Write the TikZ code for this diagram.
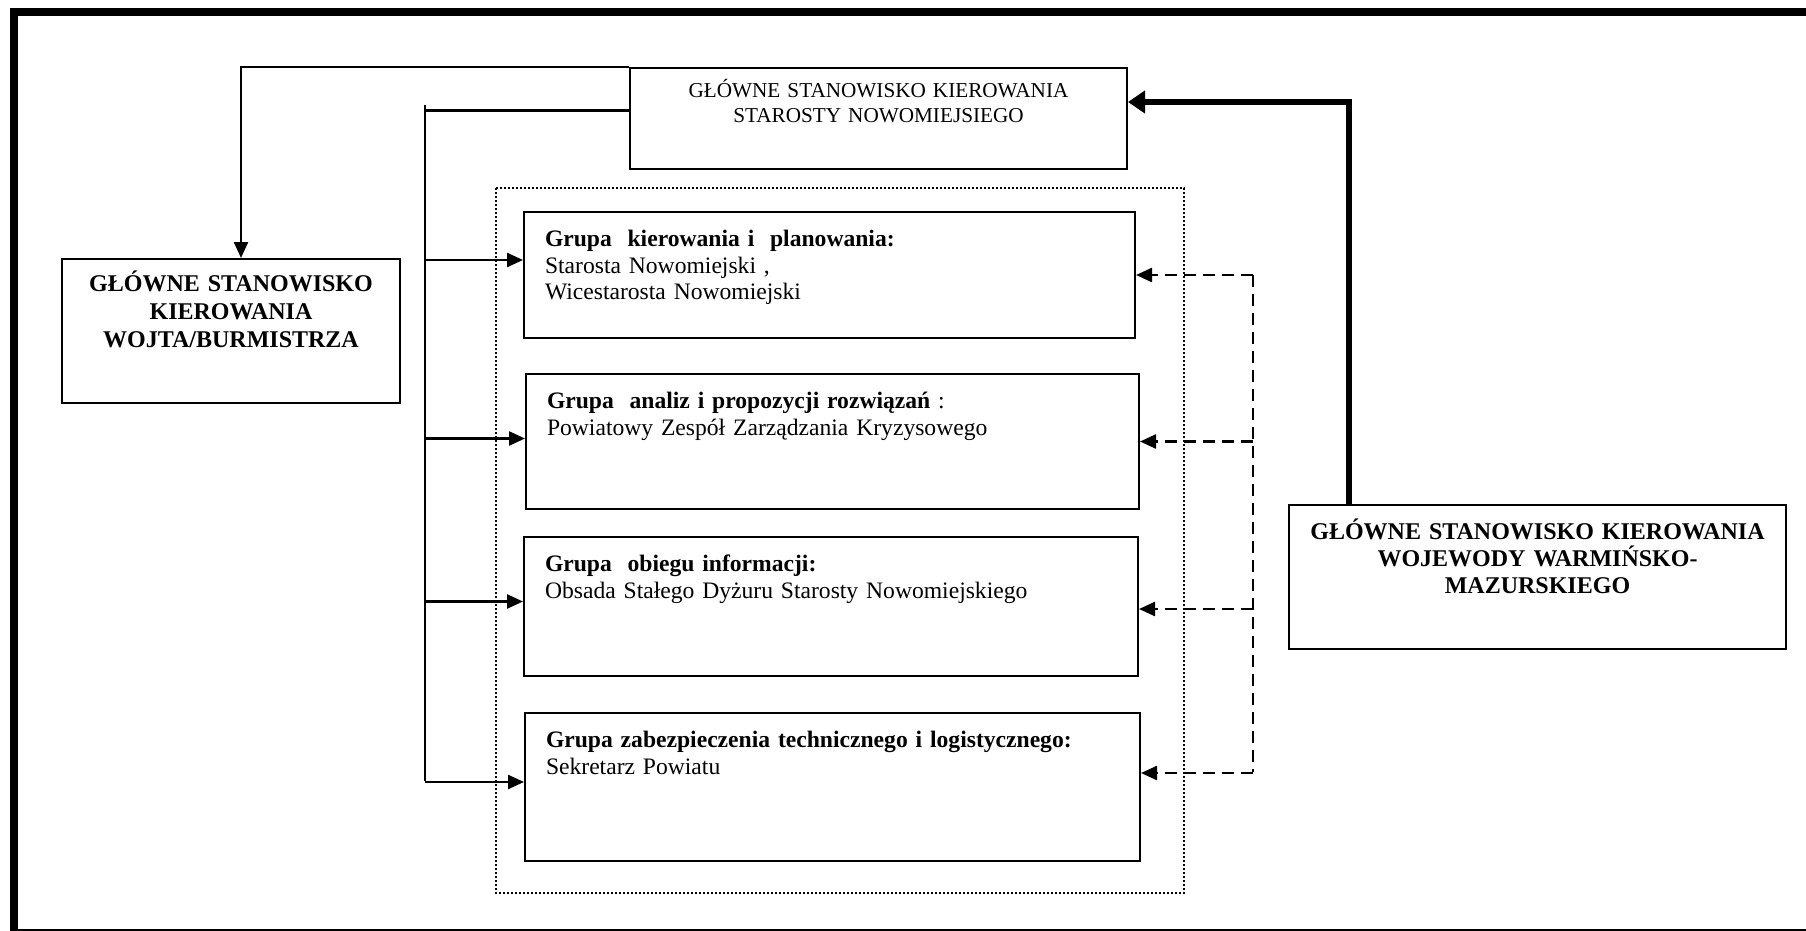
\documentclass[tikz,border=0pt]{standalone}
\usepackage{fontspec}
\setmainfont{Liberation Serif}
\usetikzlibrary{arrows.meta}

\begin{document}
\begin{tikzpicture}[x=0.5pt,y=-0.5pt,
  ramka/.style={draw,line width=1pt,inner ysep=0pt,anchor=north west},
  grupa/.style={ramka,inner xsep=10.5pt,align=left,text height=17pt,
    font=\fontsize{11.8}{13.5}\selectfont},
  szef/.style={ramka,inner xsep=4pt,align=center,
    font=\bfseries\fontsize{12}{13.8}\selectfont},
  linia/.style={line width=1.2pt},
  strzalka/.style={linia,-{Triangle[length=8pt,width=7pt]}},
  kreska/.style={strzalka,dash pattern=on 6pt off 3.5pt},
  gruba/.style={line width=2.8pt,-{Triangle[length=8.5pt,width=11pt]}}]
\useasboundingbox (0,0) rectangle (1806,931);
\clip (0,0) rectangle (1806,931);
% ramka strony
\draw[line width=4pt] (1830,933) -- (14,933) -- (14,12) -- (1830,12);

% stanowiska kierowania
\node[ramka,text width=240.5pt,inner xsep=4pt,align=center,text height=15pt,
  text depth=35.5pt,font=\fontsize{10.6}{12.5}\selectfont] (star) at (629,67)
  {GŁÓWNE STANOWISKO KIEROWANIA\\STAROSTY NOWOMIEJSIEGO};
\node[szef,text width=161pt,text height=16.5pt,text depth=55.5pt] (wojt) at (61,258)
  {GŁÓWNE STANOWISKO\\KIEROWANIA\\WOJTA/BURMISTRZA};
\node[szef,text width=240.5pt,text height=17pt,text depth=55pt,
  font=\bfseries\fontsize{12}{13.5}\selectfont] (woj) at (1288,504)
  {GŁÓWNE STANOWISKO KIEROWANIA\\WOJEWODY WARMIŃSKO-\\MAZURSKIEGO};

% grupy
\draw[line width=1.2pt,dash pattern=on 1pt off 1pt] (496,188) rectangle (1184,893);
\node[grupa,text width=284.5pt,text depth=46pt] (g1) at (523,211)
  {\textbf{Grupa\ \ kierowania i\ \ planowania:}\\Starosta Nowomiejski ,\\Wicestarosta Nowomiejski};
\node[grupa,text width=285.5pt,text depth=50.5pt] (g2) at (525,373)
  {\textbf{Grupa\ \ analiz i propozycji rozwiązań} :\\Powiatowy Zespół Zarządzania Kryzysowego};
\node[grupa,text width=286pt,text depth=52.5pt] (g3) at (523,536)
  {\textbf{Grupa\ \ obiegu informacji:}\\Obsada Stałego Dyżuru Starosty Nowomiejskiego};
\node[grupa,text width=286.5pt,text depth=57pt] (g4) at (524,712)
  {\textbf{Grupa zabezpieczenia technicznego i logistycznego:}\\Sekretarz Powiatu};

% polaczenia
\coordinate (szyna g) at (425,105);
\coordinate (szyna d) at (425,781);
\coordinate (pion g) at (1253,275);
\coordinate (pion d) at (1253,772);

\draw[strzalka] (star.north west) -| ([xshift=5pt]wojt.north);
\draw[linia] ([yshift=4pt]star.west) -| (szyna g);
\draw[linia] (szyna g) -- (szyna d);
\foreach \g/\dy in {g1/7.5,g2/1.5,g3/2.5,g4/2.5}
  \draw[strzalka] ([yshift=\dy pt]\g.west -| szyna g) -- ([yshift=\dy pt]\g.west);

\draw[linia,dash pattern=on 6pt off 3.5pt] (pion g) -- (pion d);
\foreach \g/\dy in {g1/0,g2/0,g3/-1.25,g4/7}
  \draw[kreska] ([yshift=\dy pt]\g.east -| pion g) -- ([yshift=\dy pt]\g.east);

\draw[gruba] ([xshift=30.5pt]woj.north west) |- ([yshift=8.25pt]star.east);
\end{tikzpicture}
\end{document}
